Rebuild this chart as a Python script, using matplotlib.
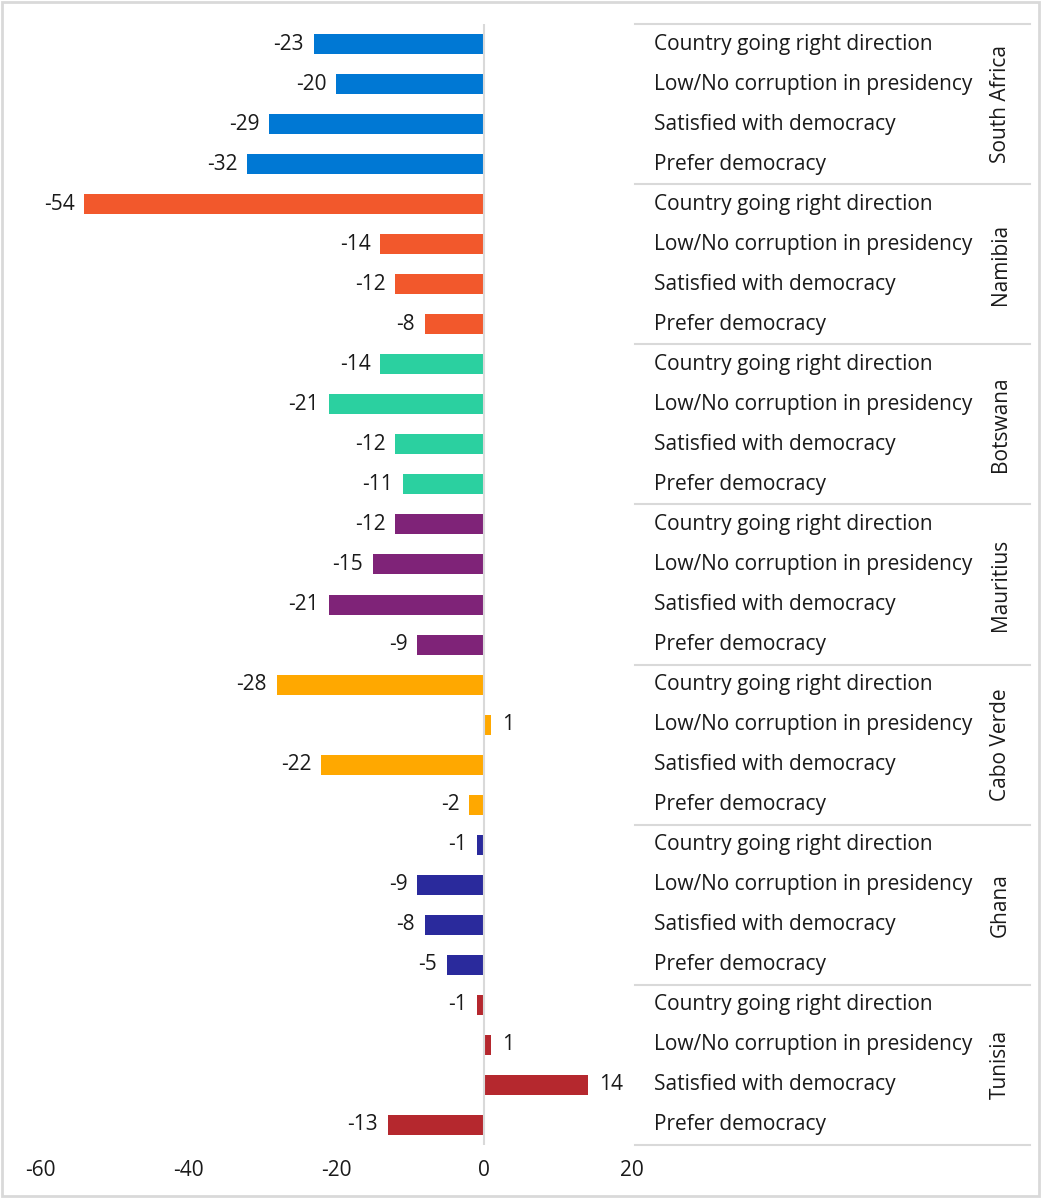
import matplotlib.pyplot as plt
from matplotlib.patches import Rectangle

countries = ["South Africa", "Namibia", "Botswana", "Mauritius", "Cabo Verde", "Ghana", "Tunisia"]
items = ["Country going right direction", "Low/No corruption in presidency",
         "Satisfied with democracy", "Prefer democracy"]
colors = ["#0078D4", "#F2582C", "#2BD0A0", "#7F2378", "#FFA800", "#2A2A9C", "#B5282E"]

south_africa = [-23, -20, -29, -32]
namibia = [-54, -14, -12, -8]
botswana = [-14, -21, -12, -11]
mauritius = [-12, -15, -21, -9]
cabo_verde = [-28, 1, -22, -2]
ghana = [-1, -9, -8, -5]
tunisia = [-1, 1, 14, -13]
values = [south_africa, namibia, botswana, mauritius, cabo_verde, ghana, tunisia]

plt.rcParams['font.family'] = ['Open Sans', 'DejaVu Sans']
plt.rcParams['axes.unicode_minus'] = False
W, H = 1041, 1198
fig = plt.figure(figsize=(W / 100, H / 100), dpi=100)
fig.patches.append(Rectangle((0.002, 0.002), 0.996, 0.996, transform=fig.transFigure,
                             fill=False, edgecolor="#d9d9d9", linewidth=2))

x0, x1, ytop, ybot = 40, 632, 24, 1145
ax = fig.add_axes([x0 / W, 1 - ybot / H, (x1 - x0) / W, (ybot - ytop) / H])

n = len(countries) * len(items)
ax.set_xlim(-60, 20)
ax.set_ylim(n, 0)

fs = 15
row = 0
for c, vals, col in zip(countries, values, colors):
    for item, v in zip(items, vals):
        y = row + 0.5
        ax.barh(y, v, height=0.5, color=col)
        if v < 0:
            ax.annotate(str(v), (v, y), xytext=(-7, 0), textcoords="offset points",
                        ha="right", va="center", fontsize=fs, color="#1a1a1a")
        else:
            ax.annotate(str(v), (v, y), xytext=(8, 0), textcoords="offset points",
                        ha="left", va="center", fontsize=fs, color="#1a1a1a")
        row += 1

ax.axvline(0, color="#d9d9d9", linewidth=1.5)
for s in ax.spines.values():
    s.set_visible(False)
ax.set_yticks([])
ax.set_xticks([-60, -40, -20, 0, 20])
ax.tick_params(axis="x", length=0, labelsize=fs, pad=11, colors="#1a1a1a")

# category table on the right
def px_x(p):
    return (p - x0) / (x1 - x0)

tr = ax.get_yaxis_transform()
for gi, c in enumerate(countries):
    top = gi * len(items)
    ax.plot([px_x(635), px_x(1030)], [top, top], color="#d9d9d9", linewidth=1.5,
            transform=tr, clip_on=False)
    for k, item in enumerate(items):
        ax.text(px_x(654), top + k + 0.5, item, transform=tr,
                ha="left", va="center", fontsize=fs, color="#1a1a1a", clip_on=False)
    ax.text(px_x(1000), top + len(items) / 2, c, transform=tr,
            ha="center", va="center", rotation=90, fontsize=fs, color="#1a1a1a", clip_on=False)
ax.plot([px_x(635), px_x(1030)], [n, n], color="#d9d9d9", linewidth=1.5,
        transform=tr, clip_on=False)

fig.savefig("out.png", dpi=100)
